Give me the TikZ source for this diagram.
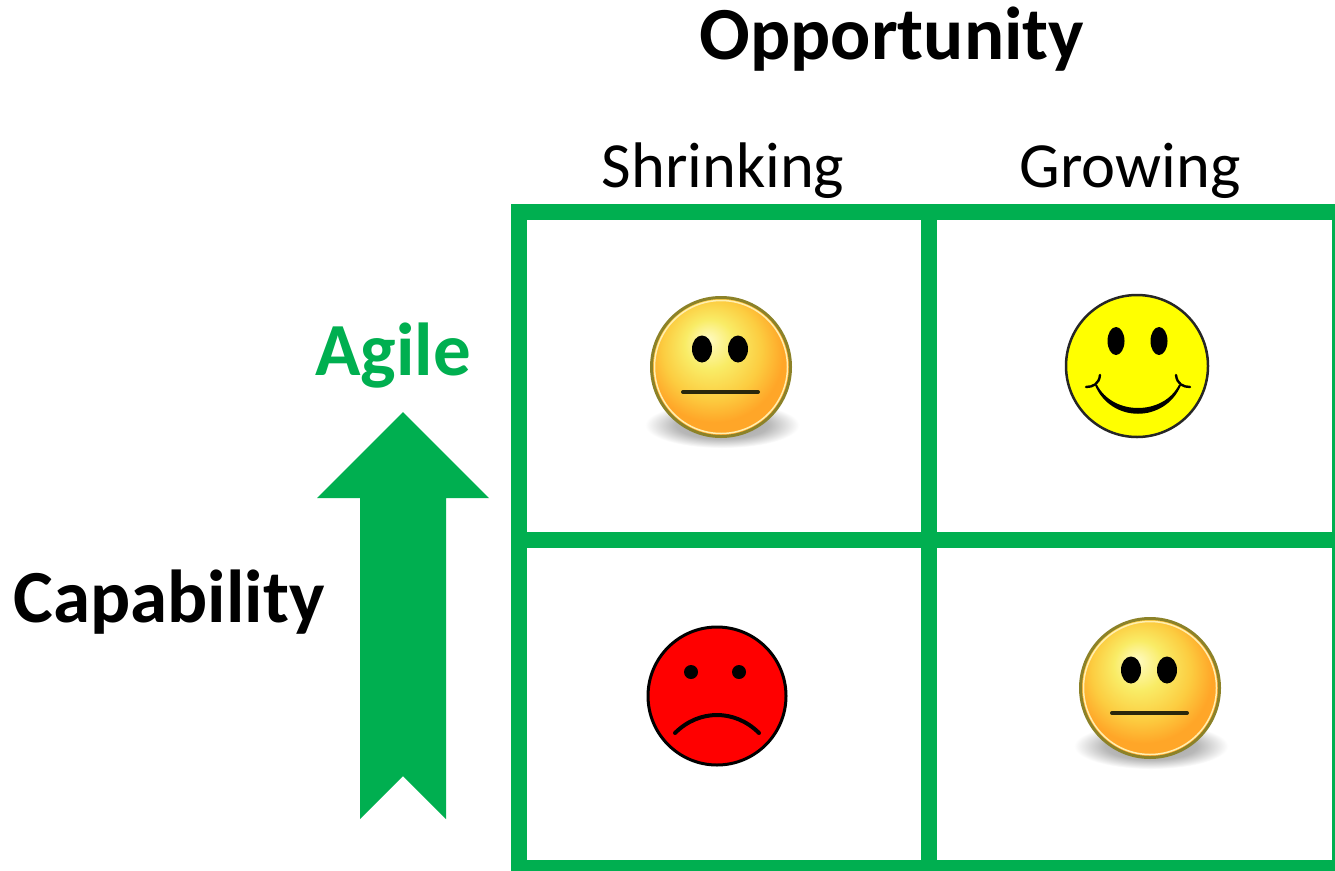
\documentclass[tikz,border=0pt]{standalone}
\usepackage{fontspec}
\setmainfont{Carlito}
\definecolor{grn}{HTML}{00AF50}
\definecolor{olivering}{HTML}{8C8228}
\definecolor{pureyellow}{HTML}{FFFF00}
\definecolor{purered}{HTML}{FF0000}
\definecolor{ringpale}{HTML}{FFEFB0}
\definecolor{fa}{HTML}{FFFBC4}
\definecolor{fb}{HTML}{F9EC66}
\definecolor{fc}{HTML}{FCCC40}
\definecolor{fd}{HTML}{FFA628}
\pgfdeclareradialshading{neutralshade}{\pgfpoint{-5bp}{10bp}}{color(0bp)=(fa);color(9bp)=(fb);color(18bp)=(fc);color(25bp)=(fd);color(50bp)=(fd)}
\pgfdeclareradialshading{shadowshade}{\pgfpoint{0bp}{0bp}}{color(0bp)=(black!38);color(15bp)=(black!28);color(25bp)=(white);color(50bp)=(white)}
\tikzset{
  x=1pt,y=-1pt,
  lbl/.style={anchor=base,inner sep=0pt,text=black},
  bigbold/.style={lbl,font=\fontsize{75}{75}\selectfont\bfseries},
  head/.style={lbl,font=\fontsize{64.4}{64.4}\selectfont},
  cellline/.style={draw=grn,line width=15.5pt,line cap=butt},
  neutralface/.pic={
    \path[shading=shadowshade] (1,58) ellipse [x radius=77,y radius=23];
    \path[shading=neutralshade] (0,0) circle [radius=69];
    \draw[olivering,line width=3pt] (0,0) circle [radius=69.5];
    \draw[ringpale,line width=1.5pt] (0,0) circle [radius=66.5];
    \fill[black] (-19,-18) ellipse [x radius=10,y radius=13.5];
    \fill[black] (17,-18) ellipse [x radius=10,y radius=13.5];
    \draw[black!70!olivering,line width=4pt,line cap=round] (-38,25) -- (37,25);
  },
}
\begin{document}
\begin{tikzpicture}
\useasboundingbox (0,0) rectangle (1335,870);
\fill[white] (0,0) rectangle (1335,870);
\clip (0,0) rectangle (1335,870);
% grid
\draw[cellline] (519,212) rectangle (1339.7,868);
\draw[cellline] (929,212) -- (929,868);
\draw[cellline] (519,540) -- (1339.7,540);
% labels
\node[bigbold] (opp) at (892,59) {Opportunity};
\node[head] (shr) at (723,187) {Shrinking};
\node[head] (gro) at (1130,187) {Growing};
\node[bigbold,text=grn] (agile) at (393,375) {Agile};
\node[bigbold] (cap) at (169,622) {Capability};
% arrow
\fill[grn] (403,412) -- (489,498) -- (446,498) -- (446,819) -- (403,776) -- (360,819) -- (360,498) -- (317,498) -- cycle;
% faces
\pic at (721,367) {neutralface};
\pic at (1150,688) {neutralface};
% happy
\begin{scope}[shift={(1137,366)}]
\draw[fill=pureyellow,draw=black!85,line width=2.5pt] (0,0) circle [radius=71];
\fill[black] (-21,-25) ellipse [x radius=8.5,y radius=14];
\fill[black] (22,-25) ellipse [x radius=8.5,y radius=14];
\draw[black,line width=2pt,line cap=round,fill=black] (-41,19) .. controls (-25,56) and (27,56) .. (43,19) .. controls (27,51) and (-25,51) .. cycle;
\draw[black,line width=2.4pt,line cap=round] (-51,21) .. controls (-44,21) and (-38,18) .. (-37,9);
\draw[black,line width=2.4pt,line cap=round] (53,21) .. controls (46,21) and (40,18) .. (39,9);
\end{scope}
% sad
\begin{scope}[shift={(717,696)}]
\draw[fill=purered,draw=black,line width=3pt] (0,0) circle [radius=69];
\fill[black] (-26,-24) circle [radius=7];
\fill[black] (22,-24) circle [radius=7];
\draw[black,line width=4pt,line cap=round] (-42,37) .. controls (-18,13) and (18,13) .. (42,37);
\end{scope}
\end{tikzpicture}
\end{document}
